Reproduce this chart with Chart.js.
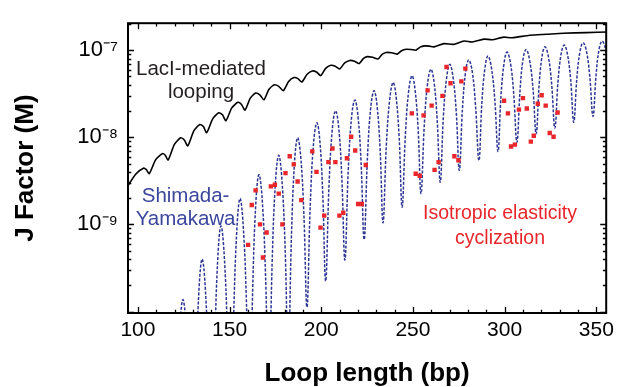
<!DOCTYPE html>
<html><head><meta charset="utf-8">
<script src="https://cdn.jsdelivr.net/npm/chart.js@4"></script>
<style>html,body{margin:0;padding:0;background:#fff;}canvas{display:block;}</style>
</head><body>
<canvas id="c" width="619" height="387"></canvas>
<script>
// ---- data (loop length in bp, J factor stored as log10 of molar value) ----
const xTickValues = [100, 150, 200, 250, 300, 350];
const yTickValues = [1e-9, 1e-8, 1e-7];
const yTickLabels = ['10⁻⁹', '10⁻⁸', '10⁻⁷'];

const lacILength = [94.0, 98.9, 103.0, 104.6, 106.2, 109.7, 113.3, 114.9, 116.5, 119.9, 123.3, 125.2, 127.2, 130.5, 133.8, 135.7, 137.5, 140.8, 144.1, 146.1, 148.0, 151.2, 154.5, 156.4, 158.4, 161.3, 164.2, 166.5, 168.7, 171.5, 174.4, 176.8, 179.3, 182.2, 185.1, 187.3, 189.4, 192.3, 195.1, 197.4, 199.7, 202.4, 205.2, 207.6, 210.0, 212.8, 215.6, 218.1, 220.7, 222.9, 225.1, 228.0, 231.0, 233.2, 235.4, 238.4, 241.4, 243.8, 246.3, 249.0, 251.7, 253.9, 256.2, 258.9, 261.6, 267.0, 272.1, 277.9, 282.4, 288.7, 293.2, 299.5, 304.0, 313.7, 322.9, 332.0, 344.6, 356.5];
const lacILog10J = [-8.573, -8.422, -8.355, -8.372, -8.417, -8.257, -8.188, -8.206, -8.260, -8.082, -8.006, -8.029, -8.098, -7.926, -7.853, -7.876, -7.947, -7.788, -7.718, -7.742, -7.810, -7.663, -7.599, -7.621, -7.687, -7.551, -7.492, -7.512, -7.570, -7.449, -7.398, -7.415, -7.464, -7.359, -7.314, -7.327, -7.366, -7.277, -7.238, -7.251, -7.292, -7.209, -7.174, -7.184, -7.216, -7.147, -7.118, -7.127, -7.154, -7.098, -7.074, -7.082, -7.101, -7.048, -7.026, -7.030, -7.045, -7.006, -6.989, -6.992, -7.000, -6.965, -6.951, -6.954, -6.962, -6.925, -6.933, -6.895, -6.906, -6.873, -6.880, -6.850, -6.858, -6.828, -6.817, -6.806, -6.798, -6.791];

const shimadaLength = [119.3,
 121.0, 122.8, 124.5, 126.3, 128.0, 129.8,
 131.5, 133.3, 135.0, 136.7, 138.5, 140.2,
 141.9, 143.6, 145.3, 147.0, 148.8, 150.5,
 152.2, 154.0, 155.7, 157.4, 159.2, 160.9,
 162.6, 164.3, 166.0, 167.8, 169.6, 171.4,
 173.2, 175.0, 176.8, 178.5, 180.3, 182.0,
 183.7, 185.4, 187.1, 188.8, 190.5, 192.2,
 194.0, 195.8, 197.6, 199.2, 200.8, 202.4,
 204.2, 206.0, 207.8, 209.5, 211.2, 212.9,
 214.7, 216.5, 218.3, 220.0, 221.7, 223.4,
 225.2, 227.0, 228.8, 230.4, 232.1, 233.7,
 235.5, 237.4, 239.2, 240.8, 242.5, 244.1,
 245.9, 247.7, 249.5, 251.1, 252.8, 254.4,
 256.2, 258.0, 259.8, 261.5, 263.2, 264.9,
 266.6, 268.4, 270.1, 271.8, 273.6, 275.3,
 277.0, 278.7, 280.4, 282.3, 284.1, 286.0,
 287.6, 289.3, 290.9, 292.7, 294.6, 296.4,
 298.0, 299.7, 301.3, 303.1, 304.9, 306.7,
 308.4, 310.0, 311.7, 313.5, 315.4, 317.2,
 318.8, 320.4, 322.0, 323.8, 325.6, 327.4,
 329.1, 330.8, 332.5, 334.2, 336.0, 337.7,
 339.4, 341.1, 342.8, 344.6, 346.4, 348.2,
 349.9, 351.5, 353.2, 355.0, 356.7, 358.5];
const shimadaLog10J = [-13.2,
 -11.347, -10.235, -9.864, -10.168, -11.080, -12.6,
 -10.821, -9.754, -9.398, -9.709, -10.643, -12.2,
 -10.432, -9.372, -9.018, -9.327, -10.254, -11.8,
 -10.079, -9.046, -8.702, -9.002, -9.901, -11.4,
 -9.750, -8.760, -8.430, -8.716, -9.572, -11.0,
 -9.448, -8.517, -8.207, -8.473, -9.271, -10.6,
 -9.159, -8.294, -8.006, -8.222, -8.870, -9.950,
 -8.774, -8.069, -7.834, -8.036, -8.642, -9.651,
 -8.565, -7.913, -7.696, -7.886, -8.457, -9.409,
 -8.389, -7.777, -7.573, -7.751, -8.285, -9.174,
 -8.225, -7.655, -7.465, -7.633, -8.139, -8.981,
 -8.087, -7.551, -7.372, -7.531, -8.008, -8.802,
 -7.964, -7.462, -7.294, -7.444, -7.895, -8.646,
 -7.853, -7.378, -7.219, -7.363, -7.795, -8.515,
 -7.764, -7.313, -7.163, -7.298, -7.703, -8.378,
 -7.675, -7.253, -7.112, -7.240, -7.625, -8.266,
 -7.600, -7.200, -7.067, -7.189, -7.554, -8.162,
 -7.529, -7.149, -7.022, -7.137, -7.482, -8.057,
 -7.465, -7.110, -6.992, -7.100, -7.422, -7.960,
 -7.406, -7.073, -6.962, -7.066, -7.376, -7.894,
 -7.364, -7.046, -6.940, -7.039, -7.334, -7.827,
 -7.320, -7.015, -6.914, -7.008, -7.290, -7.760,
 -7.279, -6.991, -6.895, -6.984, -7.253, -7.700];

const cyclizationLength = [160.1, 162.1, 164.2, 166.6, 168.2, 170.2, 172.5, 174.7, 176.8, 178.8, 180.5, 182.8, 185.0, 187.1, 189.1, 195.1, 197.4, 199.6, 201.6, 203.9, 206.1, 207.7, 209.9, 212.0, 214.0, 216.3, 218.5, 220.1, 222.1, 224.3, 249.4, 251.5, 253.7, 255.8, 258.0, 260.2, 261.8, 264.0, 266.1, 268.3, 270.5, 272.6, 274.8, 276.4, 278.6, 299.7, 301.8, 303.5, 305.6, 307.8, 310.0, 312.1, 314.3, 315.9, 318.1, 320.2, 322.4, 324.6, 326.7, 328.9];
const cyclizationLog10J = [-9.235, -8.777, -8.609, -9.000, -9.380, -9.093, -8.564, -8.545, -8.646, -9.000, -8.411, -8.218, -8.311, -8.508, -8.721, -8.162, -8.397, -9.037, -8.899, -8.285, -8.128, -8.285, -8.899, -8.866, -8.240, -7.994, -8.151, -8.765, -8.765, -8.318, -7.726, -8.419, -8.441, -7.749, -7.461, -7.637, -8.374, -8.285, -7.525, -7.193, -7.380, -8.218, -8.263, -7.358, -7.212, -7.581, -7.726, -8.106, -8.084, -7.682, -7.551, -7.670, -8.050, -7.983, -7.615, -7.517, -7.637, -7.950, -7.994, -7.715];

const toPoints = (xs, logs) => xs.map((x, i) => ({x: x, y: Math.pow(10, logs[i])}));

const FONT = '"Liberation Sans", Arial, Helvetica, sans-serif';

const frameTicks = {
  id: 'frameTicks',
  afterDatasetsDraw(chart) {
    const {ctx, chartArea: a, scales: {x, y}} = chart;
    ctx.save();
    ctx.strokeStyle = '#000';
    ctx.lineWidth = 1.3;
    ctx.beginPath();
    for (let v = 100; v <= 350; v += 10) {
      const px = Math.round(x.getPixelForValue(v)) + 0.5;
      const len = (v % 50 === 0) ? 6 : 3.3;
      ctx.moveTo(px, a.bottom); ctx.lineTo(px, a.bottom - len);
      ctx.moveTo(px, a.top); ctx.lineTo(px, a.top + len);
    }
    for (let d = -10; d <= -7; d++) {
      for (let m = 1; m <= 9; m++) {
        const v = m * Math.pow(10, d);
        if (v < y.min || v > y.max) continue;
        const py = Math.round(y.getPixelForValue(v)) + 0.5;
        const len = (m === 1) ? 6 : 3.3;
        ctx.moveTo(a.left, py); ctx.lineTo(a.left + len, py);
        ctx.moveTo(a.right, py); ctx.lineTo(a.right - len, py);
      }
    }
    ctx.stroke();
    ctx.lineWidth = 2;
    ctx.strokeRect(a.left, a.top, a.right - a.left, a.bottom - a.top);
    ctx.restore();
  }
};

const labels = {
  id: 'labels',
  afterDatasetsDraw(chart) {
    const {ctx, scales: {x, y}} = chart;
    const put = (text, bp, logJ, color, size) => {
      ctx.fillStyle = color;
      ctx.font = size + 'px ' + FONT;
      ctx.textAlign = 'center';
      ctx.textBaseline = 'alphabetic';
      ctx.fillText(text, x.getPixelForValue(bp), y.getPixelForValue(Math.pow(10, logJ)));
    };
    ctx.save();
    put('LacI-mediated', 134.4, -7.286, '#231f20', 20.5);
    put('looping', 134.4, -7.547, '#231f20', 20.5);
    put('Shimada-', 126.0, -8.739, '#3b469c', 20.5);
    put('Yamakawa', 126.0, -9.011, '#3b469c', 20.5);
    put('Isotropic elasticity', 297.5, -8.940, '#e8262b', 19.5);
    put('cyclization', 297.5, -9.223, '#e8262b', 19.5);
    ctx.restore();
  }
};

new Chart(document.getElementById('c'), {
  data: {
    datasets: [
      {
        type: 'line', label: 'Shimada-Yamakawa',
        data: toPoints(shimadaLength, shimadaLog10J),
        borderColor: '#2c3593', borderWidth: 1.5, borderDash: [3, 1.6],
        pointRadius: 0, tension: 0.4, fill: false, order: 3
      },
      {
        type: 'line', label: 'LacI-mediated looping',
        data: toPoints(lacILength, lacILog10J),
        borderColor: '#000', borderWidth: 1.6,
        pointRadius: 0, tension: 0.22, fill: false, order: 2
      },
      {
        type: 'scatter', label: 'Isotropic elasticity cyclization',
        data: toPoints(cyclizationLength, cyclizationLog10J),
        backgroundColor: '#e8262b', borderWidth: 0,
        pointStyle: 'rect', pointRadius: 3.1, order: 1
      }
    ]
  },
  options: {
    responsive: false,
    devicePixelRatio: 1,
    animation: false,
    layout: {padding: {left: 0, right: 9, top: 15, bottom: 0}},
    plugins: {legend: {display: false}, tooltip: {enabled: false}},
    scales: {
      x: {
        type: 'linear', min: 94.6, max: 355.4,
        afterBuildTicks: s => { s.ticks = xTickValues.map(v => ({value: v})); },
        afterFit: s => { s.height = 74; },
        grid: {display: false, drawTicks: false},
        border: {display: false},
        ticks: {color: '#000', padding: 5, maxRotation: 0, autoSkip: false,
                font: {family: FONT, size: 21}},
        title: {display: true, text: 'Loop length (bp)', color: '#000',
                font: {family: FONT, size: 26, weight: 'bold', lineHeight: 1},
                padding: {top: 0, bottom: 0}}
      },
      y: {
        type: 'logarithmic', min: 9.62e-11, max: 2.04e-7,
        afterBuildTicks: s => { s.ticks = yTickValues.map(v => ({value: v})); },
        afterFit: s => { s.width = 128; },
        grid: {display: false, drawTicks: false},
        border: {display: false},
        ticks: {color: '#000', padding: 10, autoSkip: false,
                font: {family: FONT, size: 22},
                callback: (v, i) => yTickLabels[i]},
        title: {display: true, text: 'J Factor (M)', color: '#000',
                font: {family: FONT, size: 26, weight: 'bold', lineHeight: 1},
                padding: {top: 13, bottom: 0}}
      }
    }
  },
  plugins: [frameTicks, labels]
});
</script>
</body></html>
